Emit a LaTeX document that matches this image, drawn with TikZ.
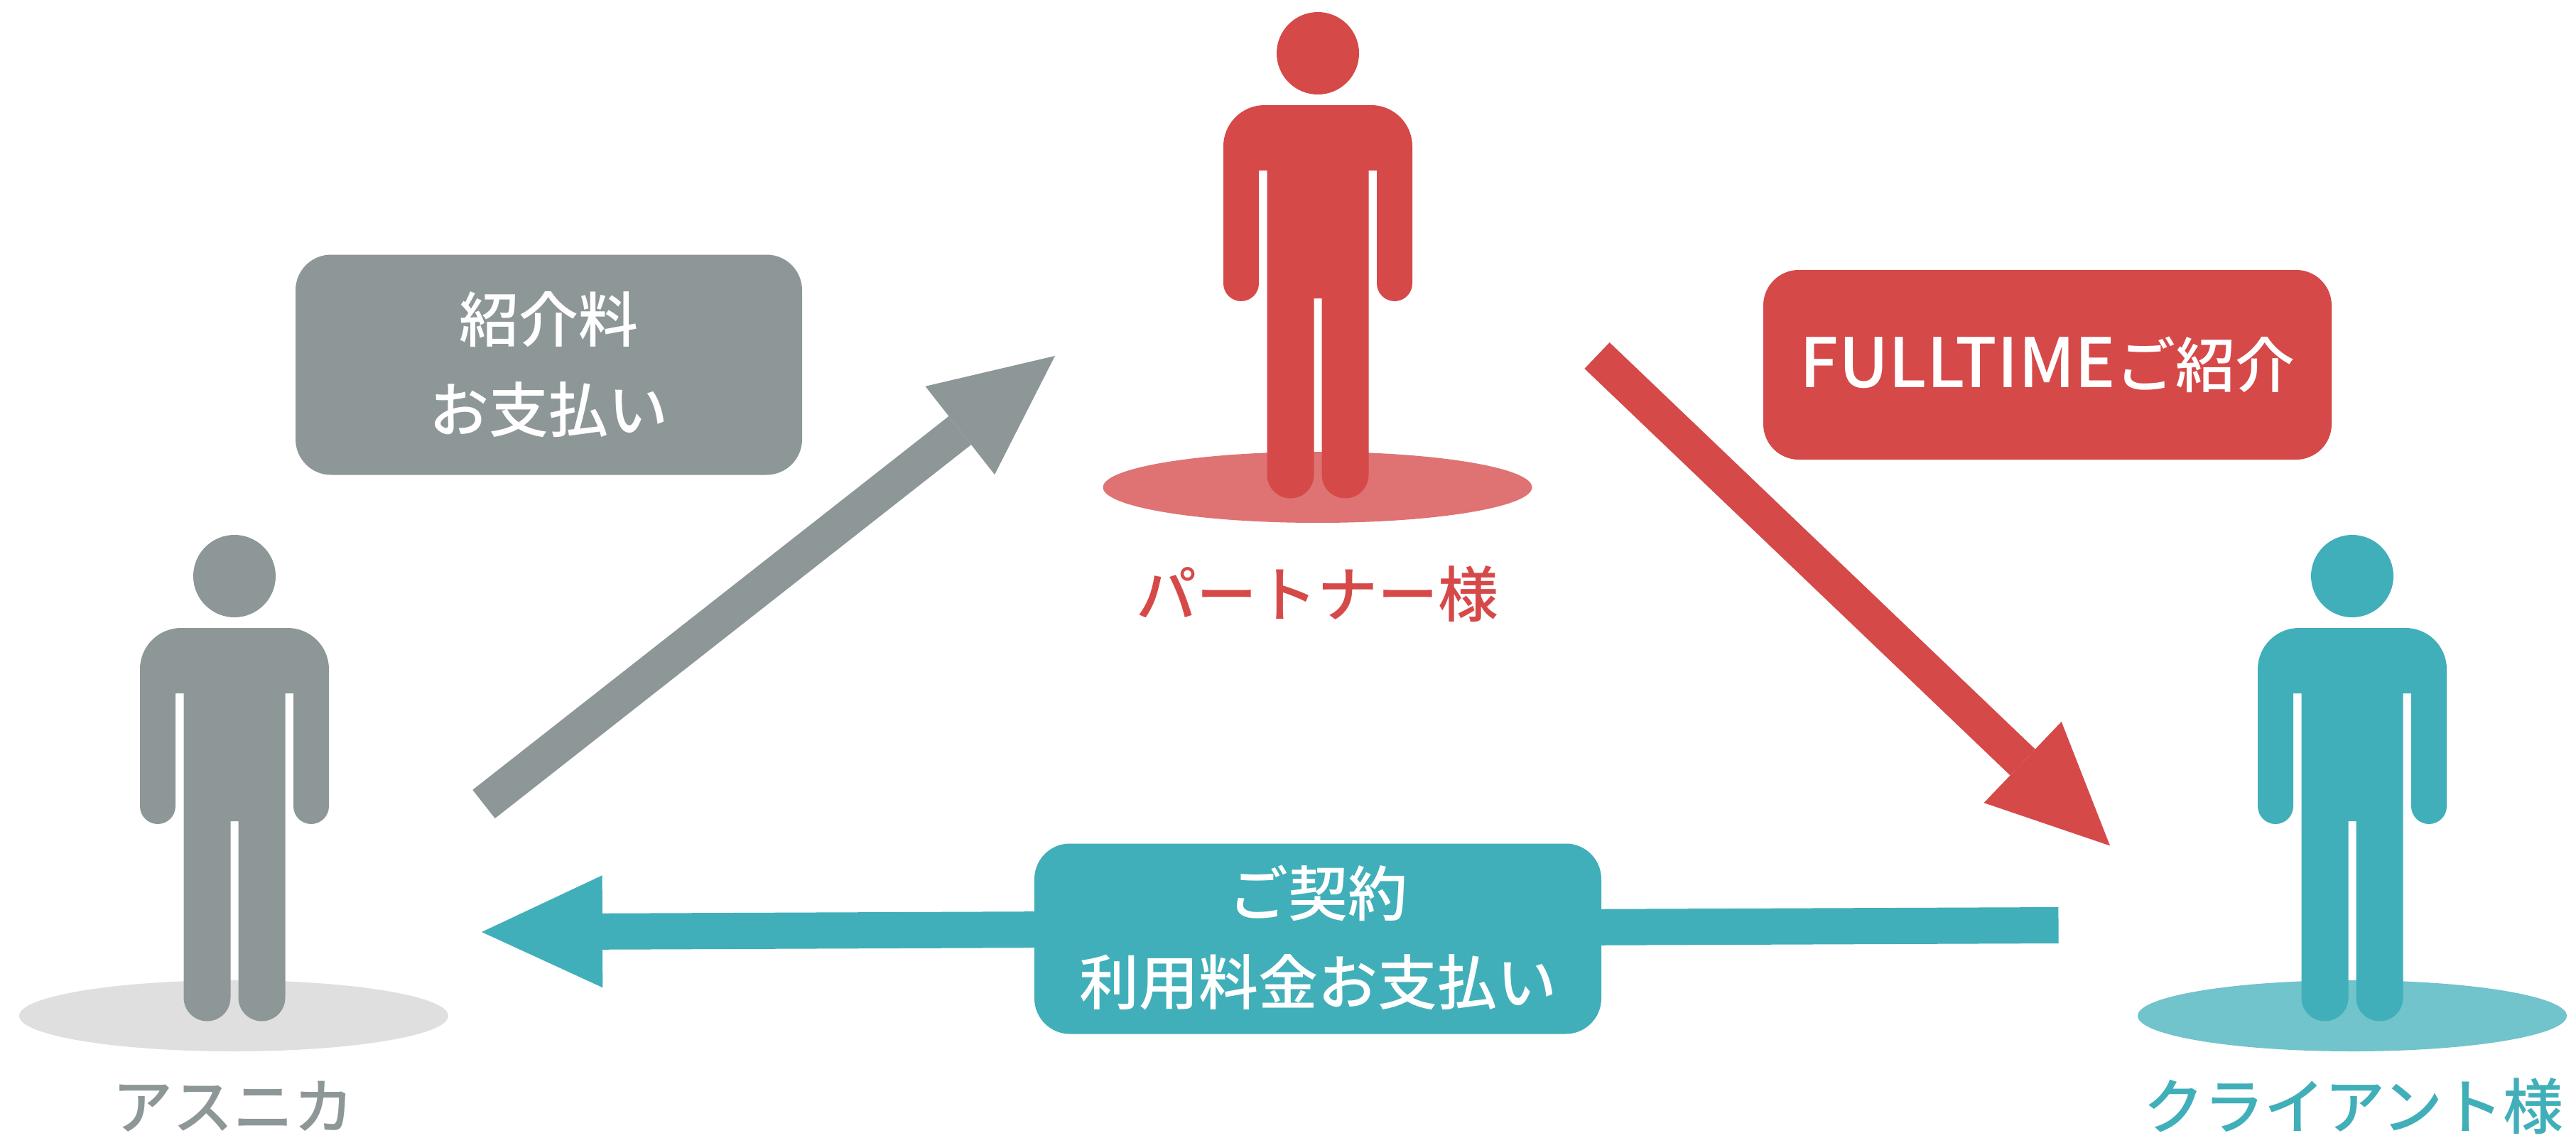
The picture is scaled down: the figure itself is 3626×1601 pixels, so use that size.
\documentclass[tikz,border=0pt]{standalone}
\usepackage{fontspec}
\setmainfont{Noto Sans CJK JP Medium}
\usetikzlibrary{arrows.meta}
\definecolor{redc}{HTML}{D64949}
\definecolor{redl}{HTML}{DF7373}
\definecolor{greyc}{HTML}{8E9797}
\definecolor{greyl}{HTML}{DFDFDF}
\definecolor{tealc}{HTML}{41AFB9}
\definecolor{teall}{HTML}{71C3CC}
\tikzset{
  x=1pt,y=1pt,
  person/.pic={
    \path[pic actions] (0,-75) circle[radius=58pt];
    \path[pic actions] (-133,-206) arc[start angle=180,end angle=90,radius=58pt] -- (75,-148)
      arc[start angle=90,end angle=0,radius=58pt] -- (133,-399)
      arc[start angle=0,end angle=-180,radius=25pt] -- (83,-240) -- (71.5,-240) -- (71.5,-668.5)
      arc[start angle=0,end angle=-180,radius=33pt] -- (5.5,-420) -- (-5.5,-420) -- (-5.5,-668.5)
      arc[start angle=0,end angle=-180,radius=33pt] -- (-71.5,-240) -- (-83,-240) -- (-83,-399)
      arc[start angle=0,end angle=-180,radius=25pt] -- cycle;
  },
  flow/.style={line width=51pt,line cap=butt,-{Triangle[length=170pt,width=158pt,line width=0pt]}},
  msgbox/.style={rounded corners=50pt,inner sep=0pt,text=white,align=center,
    font=\fontsize{84}{127}\selectfont},
  who/.style={inner sep=0pt,anchor=base,font=\fontsize{85}{100}\selectfont},
}
\begin{document}
\begin{tikzpicture}
\useasboundingbox (0,0) rectangle (3626,-1601);
% floors
\fill[greyl] (329,-1430) ellipse[x radius=302pt,y radius=50pt];
\fill[redl] (1854.5,-686) ellipse[x radius=302pt,y radius=50pt];
\fill[teall] (3311,-1430) ellipse[x radius=302pt,y radius=50pt];
% people
\pic[fill=greyc] at (330,-736) {person};
\pic[fill=redc] at (1855,0) {person};
\pic[fill=tealc] at (3311,-736) {person};
% labels
\node[who,text=greyc] (asuka) at (328,-1589) {アスニカ};
\node[who,text=redc] (partner) at (1854,-868) {パートナー様};
\node[who,text=tealc] (client) at (3313,-1589) {クライアント様};
% arrow ends
\coordinate (g1) at (681,-1132);
\coordinate (g2) at (1485,-501);
\coordinate (r1) at (2248,-500.5);
\coordinate (r2) at (2970,-1190.5);
\coordinate (t1) at (2897.5,-1302.5);
\coordinate (t2) at (678,-1312);
\draw[flow,greyc] (g1) -- (g2);
\draw[flow,redc] (r1) -- (r2);
\draw[flow,tealc] (t1) -- (t2);
% boxes
\node[msgbox,fill=greyc,minimum width=713pt,minimum height=310pt] (fee) at (772.5,-513.5) {紹介料\\お支払い};
\node[msgbox,fill=redc,minimum width=800pt,minimum height=267pt] (intro) at (2882,-513.5) {\raisebox{8pt}{{\fontsize{96}{127}\selectfont FULLTIME}ご紹介}};
\node[msgbox,fill=tealc,minimum width=798pt,minimum height=268pt] (contract) at (1855,-1321.5) {\raisebox{8pt}{ご契約}\\\raisebox{10pt}{利用料金お支払い}};
\end{tikzpicture}
\end{document}
